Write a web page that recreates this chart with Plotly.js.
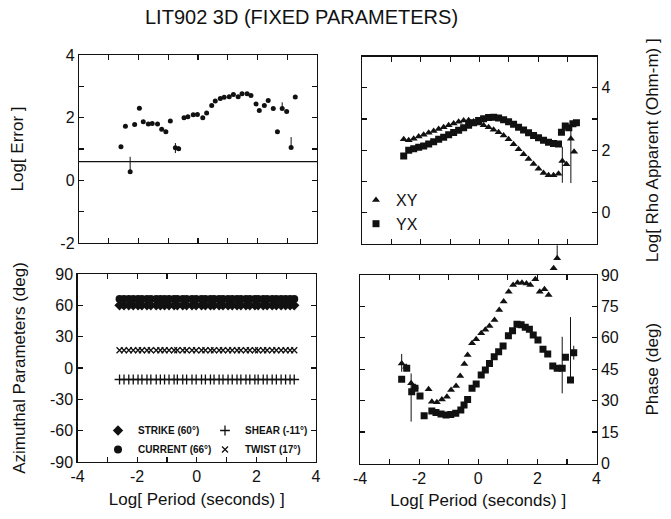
<!DOCTYPE html>
<html><head><meta charset="utf-8">
<script src="https://cdn.plot.ly/plotly-3.0.1.min.js"></script>
<style>html,body{margin:0;padding:0;background:#fff}#chart{width:671px;height:519px}</style>
</head><body><div id="chart"></div>
<script>
// ---------- text ----------
const chartTitle = 'LIT902 3D (FIXED PARAMETERS)';
const periodLabel = 'Log[ Period (seconds) ]';
const errLabel = 'Log[ Error ]';
const rhoLabel = 'Log[ Rho Apparent (Ohm-m) ]';
const azLabel = 'Azimuthal Parameters (deg)';
const phaseLabel = 'Phase (deg)';

// ---------- tick labels ----------
const periodTickVals = [-4, -3, -2, -1, 0, 1, 2, 3, 4];
const periodTickText = ['-4', '', '-2', '', '0', '', '2', '', '4'];
const errTickVals = [-2, -1, 0, 1, 2, 3, 4];
const errTickText = ['-2', '', '0', '', '2', '', '4'];
const rhoTickVals = [-1, 0, 1, 2, 3, 4, 5];
const rhoTickText = ['', '0', '', '2', '', '4', ''];
const azTickVals = [-90, -60, -30, 0, 30, 60, 90];
const azTickText = ['-90', '-60', '-30', '0', '30', '60', '90'];
const phaseTickVals = [0, 15, 30, 45, 60, 75, 90];
const phaseTickText = ['0', '15', '30', '45', '60', '75', '90'];

// ---------- top-left: Log[ Error ] ----------
const errPeriods = [-2.59,-2.44,-2.28,-2.13,-1.97,-1.84,-1.67,-1.54,-1.36,-1.22,-1.08,-0.93,-0.76,-0.65,-0.47,-0.34,-0.16,-0.02,0.16,0.29,0.46,0.58,0.75,0.88,1.05,1.19,1.35,1.48,1.65,1.78,1.95,2.06,2.23,2.36,2.53,2.67,2.83,2.98,3.13,3.27];
const errValues  = [1.07,1.73,0.27,1.78,2.30,1.87,1.80,1.81,1.80,1.63,1.55,1.89,1.04,1.01,2.00,2.03,2.09,2.10,2.00,2.15,2.39,2.53,2.61,2.65,2.67,2.74,2.67,2.76,2.76,2.71,2.44,2.23,2.39,2.55,2.29,1.55,2.29,2.20,1.05,2.66];
const errPlus    = [0,0,0.48,0,0,0,0,0,0,0,0,0,0.15,0.08,0,0,0,0,0,0,0,0,0,0,0,0,0,0,0,0,0,0,0,0,0,0,0.2,0,0.33,0];
const errMinus   = [0,0,0,0,0,0,0,0,0,0,0,0,0.17,0.05,0,0,0,0,0,0,0,0,0,0,0,0,0,0,0,0,0,0,0,0,0,0,0,0,0,0];
const errThreshold = 0.6;

// ---------- top-right: Log[ Rho Apparent ] ----------
const rhoPeriodsXY = [-2.58,-2.41,-2.24,-2.07,-1.90,-1.73,-1.56,-1.39,-1.22,-1.05,-0.88,-0.71,-0.54,-0.37,-0.20,-0.03,0.14,0.31,0.48,0.65,0.82,0.99,1.16,1.33,1.50,1.67,1.84,2.01,2.18,2.35,2.52,2.69,2.82,2.96,3.11,3.22];
const rhoXY        = [2.35,2.32,2.37,2.44,2.50,2.56,2.62,2.68,2.74,2.80,2.86,2.91,2.95,2.96,2.92,2.86,2.80,2.74,2.66,2.58,2.47,2.35,2.19,2.03,1.87,1.72,1.56,1.41,1.27,1.20,1.20,1.25,1.66,1.55,2.37,1.95];
const rhoXYPlus    = [0,0,0,0,0,0,0,0,0,0,0,0,0,0,0,0,0,0,0,0,0,0,0,0,0,0,0,0,0,0,0,0,0.45,0,0.28,0];
const rhoXYMinus   = [0,0,0,0,0,0,0,0,0,0,0,0,0,0,0,0,0,0,0,0,0,0,0,0,0,0,0,0,0,0,0,0,0.7,0,1.42,0];
const rhoPeriodsYX = [-2.58,-2.41,-2.24,-2.07,-1.90,-1.73,-1.56,-1.39,-1.22,-1.05,-0.88,-0.71,-0.54,-0.37,-0.20,-0.03,0.14,0.31,0.48,0.65,0.82,0.99,1.16,1.33,1.50,1.67,1.84,2.01,2.18,2.35,2.52,2.69,2.79,2.92,3.04,3.18,3.30];
const rhoYX        = [1.82,2.00,2.05,2.10,2.14,2.20,2.27,2.35,2.42,2.50,2.57,2.64,2.72,2.80,2.88,2.95,3.01,3.05,3.06,3.03,2.98,2.91,2.83,2.74,2.65,2.56,2.47,2.40,2.32,2.26,2.22,2.20,2.58,2.78,2.72,2.85,2.88];

// ---------- bottom-right: Phase ----------
const phasePeriodsXY = [-2.59,-2.44,-2.27,-2.14,-1.68,-1.57,-1.40,-1.23,-1.06,-0.92,-0.75,-0.61,-0.47,-0.36,-0.21,-0.07,0.10,0.24,0.38,0.55,0.71,0.86,1.03,1.18,1.33,1.48,1.63,1.76,1.93,2.08,2.24,2.38,2.55,2.67];
const phaseXY        = [47.8,46.2,38.3,36.7,35.4,29.5,29.2,30.6,31.9,35.1,37.0,41.8,47.5,51.8,57.4,59.3,62.2,63.8,65.7,68.5,73.3,77.3,82.0,85.2,86.3,86.3,86.0,85.2,88.0,82.0,83.2,80.5,93.2,98.0];
const phaseXYPlus    = [4.5,0,4.7,0,0,0,0,0,0,0,0,0,0,0,0,0,0,0,0,0,0,0,0,0,0,0,0,0,0,0,0,0,0,6.2];
const phaseXYMinus   = [4.0,0,18.3,0,0,0,0,0,0,0,0,0,0,0,0,0,0,0,0,0,0,0,0,0,0,0,0,0,0,0,0,0,0,0];
const phasePeriodsYX = [-2.59,-2.42,-2.25,-2.14,-1.97,-1.83,-1.57,-1.43,-1.26,-1.09,-0.93,-0.76,-0.59,-0.48,-0.36,-0.21,-0.07,0.10,0.24,0.38,0.54,0.69,0.84,1.02,1.16,1.31,1.45,1.59,1.73,1.86,2.02,2.19,2.35,2.52,2.67,2.84,2.95,3.12,3.23];
const phaseYX        = [40.2,45.5,34.3,35.9,32.2,22.8,25.1,24.4,23.6,23.2,23.4,24.0,25.5,27.9,30.6,35.9,38.0,42.3,44.6,47.8,51.0,53.4,56.1,61.0,63.4,66.5,66.2,65.0,64.1,61.4,59.0,54.5,52.3,46.6,45.5,45.5,50.7,39.9,52.9];
const phaseYXPlus    = [0,0,0,0,0,0,0,0,0,0,0,0,0,0,0,0,0,0,0,0,0,0,0,0,0,0,0,0,0,0,0,0,0,0,0,15.0,0,30.0,3.3];
const phaseYXMinus   = [0,0,0,0,0,0,0,0,0,0,0,0,0,0,0,0,0,0,0,0,0,0,0,0,0,0,0,0,0,0,0,0,0,0,0,12.0,0,0,3.3];

// ---------- bottom-left: azimuthal parameters (fixed) ----------
const azPeriods = errPeriods;
const strikeName = 'STRIKE (60°)', currentName = 'CURRENT (66°)', shearName = 'SHEAR (-11°)', twistName = 'TWIST (17°)';
const strikeDeg  = [60,60,60,60,60,60,60,60,60,60,60,60,60,60,60,60,60,60,60,60,60,60,60,60,60,60,60,60,60,60,60,60,60,60,60,60,60,60,60,60];
const currentDeg = [66,66,66,66,66,66,66,66,66,66,66,66,66,66,66,66,66,66,66,66,66,66,66,66,66,66,66,66,66,66,66,66,66,66,66,66,66,66,66,66];
const shearDeg   = [-11,-11,-11,-11,-11,-11,-11,-11,-11,-11,-11,-11,-11,-11,-11,-11,-11,-11,-11,-11,-11,-11,-11,-11,-11,-11,-11,-11,-11,-11,-11,-11,-11,-11,-11,-11,-11,-11,-11,-11];
const twistDeg   = [17,17,17,17,17,17,17,17,17,17,17,17,17,17,17,17,17,17,17,17,17,17,17,17,17,17,17,17,17,17,17,17,17,17,17,17,17,17,17,17];

// ---------- layout geometry ----------
const W = 671, H = 519;
const M = {l: 77, r: 74, t: 55, b: 55};
const PW = W - M.l - M.r, PH = H - M.t - M.b;
const clamp = v => Math.max(0, Math.min(1, v));
const dx = (a, b) => [clamp((a - M.l) / PW), clamp((b - M.l) / PW)];
const dy = (top, bot) => [clamp((H - M.b - bot) / PH), clamp((H - M.b - top) / PH)];
const px = v => (v - M.l) / PW;
const py = v => (H - M.b - v) / PH;

// phase panel pixel box; an invisible twin axis with the same scale extends it upward so the
// XY phase values above 90 deg (drawn above the frame in the original) stay visible
const phaseBox = {top: 275, bottom: 463.5, extTop: 243};
const phaseMax = 90;
const phaseExtMax = phaseMax * (phaseBox.bottom - phaseBox.extTop) / (phaseBox.bottom - phaseBox.top);

const INK = '#111';
const FONT = 'Liberation Sans, Arial, Helvetica, sans-serif';

function axis(extra) {
  return Object.assign({
    showline: true, linecolor: INK, linewidth: 1.2, mirror: 'ticks',
    ticks: 'inside', ticklen: 5, tickwidth: 1.2, tickcolor: INK,
    showgrid: false, zeroline: false, fixedrange: true,
    tickfont: {size: 16, family: FONT, color: INK}
  }, extra);
}
const ttl = (text, standoff) => ({text: text, standoff: standoff, font: {size: 17, family: FONT, color: INK}});
const ebar = (plus, minus) => ({type: 'data', symmetric: false, array: plus, arrayminus: minus, width: 0, thickness: 1, color: INK, visible: true});

const traces = [
  {x: errPeriods, y: errValues, xaxis: 'x', yaxis: 'y', mode: 'markers', showlegend: false,
   marker: {symbol: 'circle', size: 5, color: INK}, error_y: ebar(errPlus, errMinus)},

  {x: rhoPeriodsXY, y: rhoXY, xaxis: 'x2', yaxis: 'y2', mode: 'markers', name: 'XY', legend: 'legend',
   marker: {symbol: 'triangle-up', size: 7, color: INK}, error_y: ebar(rhoXYPlus, rhoXYMinus)},
  {x: rhoPeriodsYX, y: rhoYX, xaxis: 'x2', yaxis: 'y2', mode: 'markers', name: 'YX', legend: 'legend',
   marker: {symbol: 'square', size: 7, color: INK}},

  {x: azPeriods, y: strikeDeg, xaxis: 'x3', yaxis: 'y3', mode: 'markers', name: strikeName, legend: 'legend2',
   marker: {symbol: 'diamond', size: 8, color: INK}},
  {x: azPeriods, y: currentDeg, xaxis: 'x3', yaxis: 'y3', mode: 'markers', name: currentName, legend: 'legend2',
   marker: {symbol: 'circle', size: 8, color: INK}},
  {x: azPeriods, y: shearDeg, xaxis: 'x3', yaxis: 'y3', mode: 'markers', name: shearName, legend: 'legend3',
   marker: {symbol: 'cross-thin-open', size: 7, color: INK, line: {color: INK, width: 1.3}}},
  {x: azPeriods, y: twistDeg, xaxis: 'x3', yaxis: 'y3', mode: 'markers', name: twistName, legend: 'legend3',
   marker: {symbol: 'x-thin-open', size: 6, color: INK, line: {color: INK, width: 1.3}}},

  {x: phasePeriodsXY, y: phaseXY, xaxis: 'x5', yaxis: 'y5', mode: 'markers', showlegend: false, cliponaxis: false,
   marker: {symbol: 'triangle-up', size: 7, color: INK}, error_y: ebar(phaseXYPlus, phaseXYMinus)},
  {x: phasePeriodsYX, y: phaseYX, xaxis: 'x4', yaxis: 'y4', mode: 'markers', showlegend: false,
   marker: {symbol: 'square', size: 7, color: INK}, error_y: ebar(phaseYXPlus, phaseYXMinus)}
];

const legendBase = {bgcolor: 'rgba(0,0,0,0)', borderwidth: 0, xanchor: 'left', yanchor: 'top',
  itemsizing: 'trace', orientation: 'v', traceorder: 'normal', tracegroupgap: 0};

const layout = {
  width: W, height: H,
  margin: M,
  paper_bgcolor: '#fff', plot_bgcolor: 'rgba(0,0,0,0)',
  font: {family: FONT, color: INK},
  title: {text: chartTitle, xref: 'paper', yref: 'container', x: px(145), xanchor: 'left', y: 1 - 17 / H, yanchor: 'middle',
          font: {size: 20, family: FONT, color: INK}},
  xaxis: axis({domain: dx(79, 317), range: [-4, 4], anchor: 'y', tickvals: periodTickVals, showticklabels: false}),
  yaxis: axis({domain: dy(55, 243), range: [-2, 4], anchor: 'x', tickvals: errTickVals, ticktext: errTickText,
               title: ttl(errLabel, 32)}),
  xaxis2: axis({domain: dx(362, 597), range: [-4, 4], anchor: 'y2', tickvals: periodTickVals, showticklabels: false}),
  yaxis2: axis({domain: dy(56.5, 244), range: [-1, 5], anchor: 'x2', side: 'right', tickvals: rhoTickVals, ticktext: rhoTickText,
               title: ttl(rhoLabel, 36)}),
  xaxis3: axis({domain: dx(77.5, 316), range: [-4, 4], anchor: 'y3', tickvals: periodTickVals, ticktext: periodTickText,
               title: ttl(periodLabel, 8)}),
  yaxis3: axis({domain: dy(274, 462), range: [-90, 90], anchor: 'x3', tickvals: azTickVals, ticktext: azTickText,
               title: ttl(azLabel, 20)}),
  xaxis4: axis({domain: dx(360, 596.5), range: [-4, 4], anchor: 'y4', tickvals: periodTickVals, ticktext: periodTickText,
               title: ttl(periodLabel, 8)}),
  yaxis4: axis({domain: dy(phaseBox.top, phaseBox.bottom), range: [0, phaseMax], anchor: 'x4', side: 'right',
               tickvals: phaseTickVals, ticktext: phaseTickText, title: ttl(phaseLabel, 28)}),
  xaxis5: {domain: dx(360, 596.5), range: [-4, 4], anchor: 'y5', visible: false, fixedrange: true},
  yaxis5: {domain: dy(phaseBox.extTop, phaseBox.bottom), range: [0, phaseExtMax], anchor: 'x5', visible: false, fixedrange: true},
  shapes: [{type: 'line', xref: 'x domain', yref: 'y', x0: 0, x1: 1, y0: errThreshold, y1: errThreshold,
            line: {color: INK, width: 1.2}}],
  legend: Object.assign({}, legendBase, {x: px(356), y: py(183), font: {size: 16, family: FONT, color: INK}}),
  legend2: Object.assign({}, legendBase, {x: px(98), y: py(416), font: {size: 10, family: FONT, color: INK, weight: 'bold'}}),
  legend3: Object.assign({}, legendBase, {x: px(205), y: py(416), font: {size: 10, family: FONT, color: INK, weight: 'bold'}})
};

Plotly.newPlot('chart', traces, layout, {displayModeBar: false, staticPlot: true});
</script>
</body></html>
